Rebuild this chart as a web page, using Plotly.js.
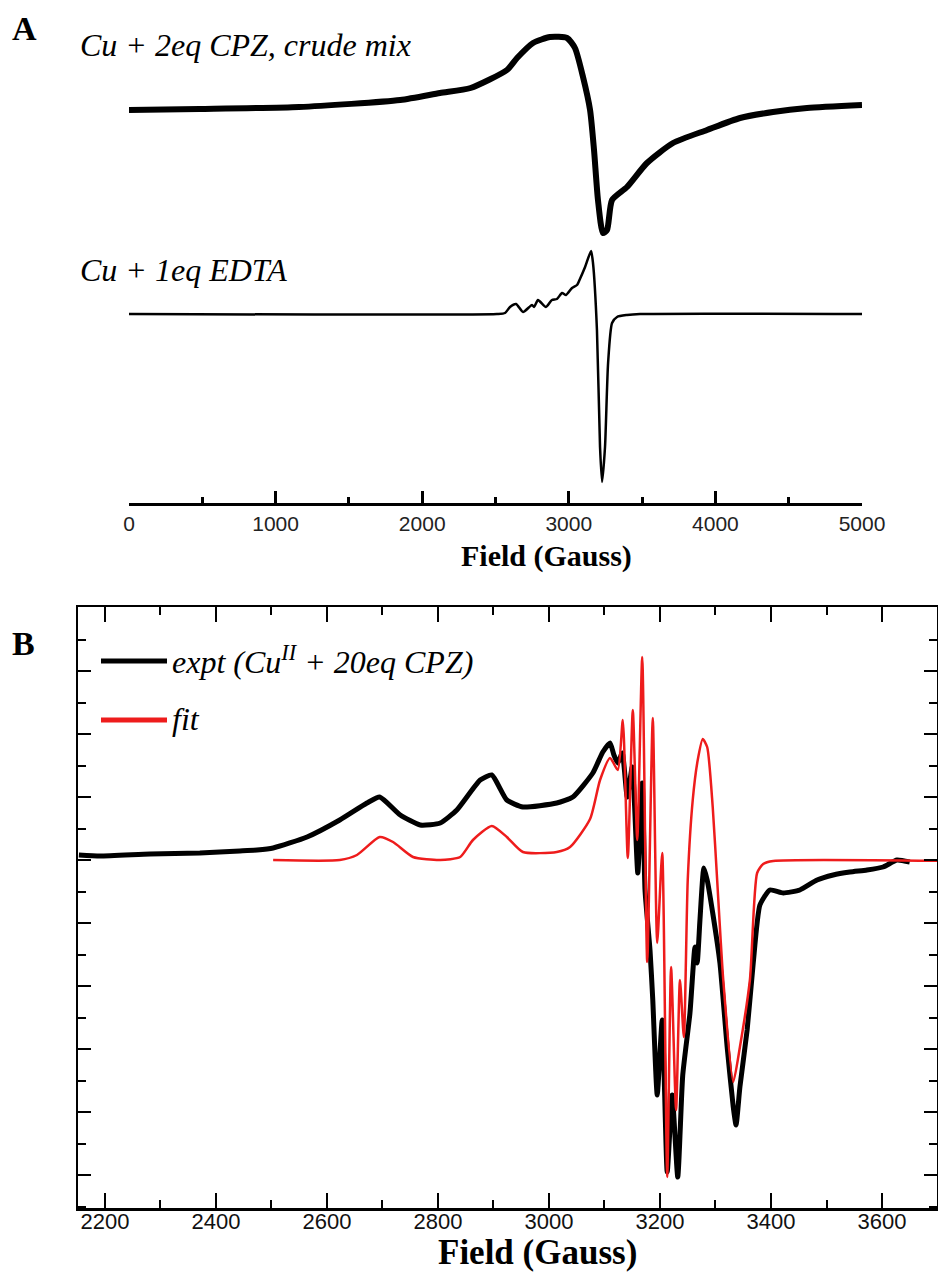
<!DOCTYPE html>
<html>
<head>
<meta charset="utf-8">
<script src="https://cdn.plot.ly/plotly-3.0.1.min.js"></script>
<style>html,body{margin:0;padding:0;background:#fff;}#chart{width:938px;height:1274px;}</style>
</head>
<body>
<div id="chart"></div>
<script>
// ---------- Panel A data (field in Gauss, intensity in arbitrary units) ----------
const fieldCPZ = [0, 480, 1160, 1850, 2121, 2330, 2578, 2647, 2756, 2872, 2988, 3042, 3097, 3145, 3172, 3199, 3233, 3261, 3295, 3397, 3533, 3711, 3943, 4168, 4393, 4625, 5000];
const intCPZ   = [-5, -4, -2, 5, 12, 17, 35, 47, 62, 68, 67, 57, 28, -5, -45, -95, -128, -125, -95, -82, -58, -38, -25, -13, -7, -3, 0];

const fieldEDTA = [0, 2510, 2565, 2599, 2640, 2688, 2749, 2763, 2790, 2844, 2885, 2919, 2954, 2981, 3022, 3056, 3076, 3111, 3152, 3165, 3192, 3213, 3227, 3247, 3268, 3295, 3329, 3397, 3486, 5000];
const intEDTA   = [0, 0, 1, 7, 10, 2, 9, 7, 14, 7, 14, 15, 21, 19, 26, 29, 35, 47, 63, 51, -16, -133, -168, -133, -49, -9, -3, -1, 0, 0];

// ---------- Panel B data ----------
const fieldExpt = [2153, 2191, 2281, 2371, 2443, 2474, 2503, 2564, 2623, 2672, 2695, 2732, 2768, 2804, 2834, 2876, 2897, 2924, 2953, 3014, 3043, 3079, 3097, 3110, 3117, 3124, 3132, 3141, 3150, 3160, 3168, 3173, 3182, 3187, 3195, 3204, 3213, 3222, 3232, 3241, 3254, 3263, 3267, 3272, 3279, 3285, 3295, 3308, 3321, 3332, 3337, 3344, 3357, 3368, 3380, 3398, 3422, 3452, 3483, 3512, 3542, 3573, 3602, 3627, 3650];
const intExpt   = [5, 4, 6, 7, 9, 10, 12, 23, 40, 57, 63, 45, 35, 37, 50, 80, 85, 60, 53, 57, 63, 87, 108, 117, 105, 97, 107, 63, 93, -13, 77, -30, -90, -140, -235, -160, -312, -235, -317, -215, -153, -87, -103, -60, -8, -20, -53, -103, -187, -247, -265, -227, -170, -103, -45, -30, -33, -30, -20, -15, -12, -10, -7, 0, -2];

const fieldFit = [2503, 2623, 2654, 2695, 2719, 2755, 2804, 2840, 2863, 2897, 2924, 2953, 3014, 3038, 3074, 3092, 3110, 3124, 3133, 3142, 3151, 3159, 3168, 3177, 3187, 3195, 3204, 3213, 3220, 3229, 3236, 3243, 3250, 3259, 3268, 3277, 3285, 3295, 3303, 3314, 3332, 3344, 3362, 3375, 3386, 3404, 3720];
const intFit   = [0, 0, 5, 23, 18, 3, 0, 3, 20, 34, 23, 8, 8, 13, 41, 80, 102, 90, 140, 2, 150, 20, 203, -102, 142, -83, 7, -317, -107, -250, -120, -177, -20, 60, 100, 121, 113, 53, -20, -120, -222, -187, -120, -13, -4, -1, -1];

// ---------- Labels ----------
const labelCPZ  = "Cu + 2eq CPZ, crude mix";
const labelEDTA = "Cu + 1eq EDTA";
const labelExpt = "expt (Cu<sup>II</sup> + 20eq CPZ)";
const labelFit  = "fit";
const axisTitle = "Field (Gauss)";
const ticksA = [0, 1000, 2000, 3000, 4000, 5000];
const ticksB = [2200, 2400, 2600, 2800, 3000, 3200, 3400, 3600];

const W = 938, H = 1274;
const px = v => v / W;
const py = v => 1 - v / H;

const serif = "Liberation Serif, Times New Roman, serif";

const traces = [
  {x: fieldEDTA, y: intEDTA, xaxis: 'x', yaxis: 'y', mode: 'lines', name: labelEDTA,
   line: {color: '#000', width: 2.5, shape: 'spline', smoothing: 0.6}},
  {x: fieldCPZ, y: intCPZ, xaxis: 'x2', yaxis: 'y2', mode: 'lines', name: labelCPZ,
   line: {color: '#000', width: 6, shape: 'spline', smoothing: 0.6}},
  {x: fieldExpt, y: intExpt, xaxis: 'x3', yaxis: 'y3', mode: 'lines', name: 'expt',
   line: {color: '#000', width: 5, shape: 'spline', smoothing: 0.5}},
  {x: fieldFit, y: intFit, xaxis: 'x3', yaxis: 'y3', mode: 'lines', name: labelFit,
   line: {color: '#ee1c1c', width: 2.5, shape: 'spline', smoothing: 0.6}}
];

const layout = {
  width: W, height: H,
  margin: {l: 0, r: 0, t: 0, b: 0},
  paper_bgcolor: '#fff',
  plot_bgcolor: 'rgba(0,0,0,0)',
  showlegend: false,
  // Panel A visible axis
  xaxis: {
    domain: [px(129), px(862)], range: [0, 5000], anchor: 'y',
    showline: true, linewidth: 3, linecolor: '#000',
    ticks: 'inside', ticklen: 12, tickwidth: 3, tickcolor: '#000',
    tickvals: ticksA, ticktext: ticksA.map(String),
    minor: {dtick: 500, tick0: 0, ticks: 'inside', ticklen: 6, tickwidth: 3, tickcolor: '#000', showgrid: false},
    tickfont: {family: 'Liberation Sans Narrow, Liberation Sans, Arial, sans-serif', size: 21, color: '#222'},
    showgrid: false, zeroline: false
  },
  yaxis: {domain: [py(503), py(240)], range: [-189, 74], visible: false, showgrid: false, zeroline: false},
  xaxis2: {domain: [px(129), px(862)], range: [0, 5000], anchor: 'y2', visible: false, showgrid: false, zeroline: false},
  yaxis2: {domain: [py(260), py(20)], range: [-155, 85], visible: false, showgrid: false, zeroline: false},
  // Panel B
  xaxis3: {
    domain: [px(78), px(937)], range: [2151.4, 3699.1], anchor: 'y3',
    showline: true, mirror: 'ticks', linewidth: 2.5, linecolor: '#000',
    ticks: 'inside', ticklen: 15, tickwidth: 2, tickcolor: '#000',
    tickvals: ticksB, ticktext: ticksB.map(String),
    minor: {dtick: 100, tick0: 2200, ticks: 'inside', ticklen: 8, tickwidth: 2, tickcolor: '#000', showgrid: false},
    tickfont: {family: 'Liberation Sans, Arial, sans-serif', size: 22, color: '#111'},
    ticklabelstandoff: -8,
    showgrid: false, zeroline: false
  },
  yaxis3: {
    domain: [py(1208), py(607)], range: [-348, 253], anchor: 'x3',
    showline: true, mirror: 'ticks', linewidth: 2.5, linecolor: '#000',
    ticks: 'inside', ticklen: 13, tickwidth: 2, tickcolor: '#000',
    tick0: 0, dtick: 63, showticklabels: false,
    minor: {dtick: 31.5, tick0: 0, ticks: 'inside', ticklen: 8, tickwidth: 2, tickcolor: '#000', showgrid: false},
    showgrid: false, zeroline: false
  },
  shapes: [
    {type: 'line', xref: 'paper', yref: 'paper', x0: px(101), x1: px(167), y0: py(661), y1: py(661), line: {color: '#000', width: 5}},
    {type: 'line', xref: 'paper', yref: 'paper', x0: px(101), x1: px(167), y0: py(720), y1: py(720), line: {color: '#ee1c1c', width: 5}}
  ],
  annotations: [
    {text: '<b>A</b>', xref: 'paper', yref: 'paper', x: px(10), y: py(28), xanchor: 'left', yanchor: 'middle', showarrow: false, font: {family: serif, size: 34, color: '#000'}},
    {text: '<b>B</b>', xref: 'paper', yref: 'paper', x: px(10), y: py(643), xanchor: 'left', yanchor: 'middle', showarrow: false, font: {family: serif, size: 34, color: '#000'}},
    {text: '<i>' + labelCPZ + '</i>', xref: 'paper', yref: 'paper', x: px(78), y: py(45), xanchor: 'left', yanchor: 'middle', showarrow: false, font: {family: serif, size: 32, color: '#000'}},
    {text: '<i>' + labelEDTA + '</i>', xref: 'paper', yref: 'paper', x: px(78), y: py(270), xanchor: 'left', yanchor: 'middle', showarrow: false, font: {family: serif, size: 32, color: '#000'}},
    {text: '<i>' + labelExpt + '</i>', xref: 'paper', yref: 'paper', x: px(170), y: py(660), xanchor: 'left', yanchor: 'middle', showarrow: false, font: {family: serif, size: 32, color: '#000'}},
    {text: '<i>' + labelFit + '</i>', xref: 'paper', yref: 'paper', x: px(170), y: py(719), xanchor: 'left', yanchor: 'middle', showarrow: false, font: {family: serif, size: 32, color: '#000'}},
    {text: '<b>' + axisTitle + '</b>', xref: 'paper', yref: 'paper', x: px(546), y: py(556), xanchor: 'center', yanchor: 'middle', showarrow: false, font: {family: serif, size: 30, color: '#000'}},
    {text: '<b>' + axisTitle + '</b>', xref: 'paper', yref: 'paper', x: px(537), y: 0, xanchor: 'center', yanchor: 'bottom', showarrow: false, font: {family: serif, size: 35, color: '#000'}}
  ]
};

Plotly.newPlot('chart', traces, layout, {staticPlot: true, displayModeBar: false});
</script>
</body>
</html>
